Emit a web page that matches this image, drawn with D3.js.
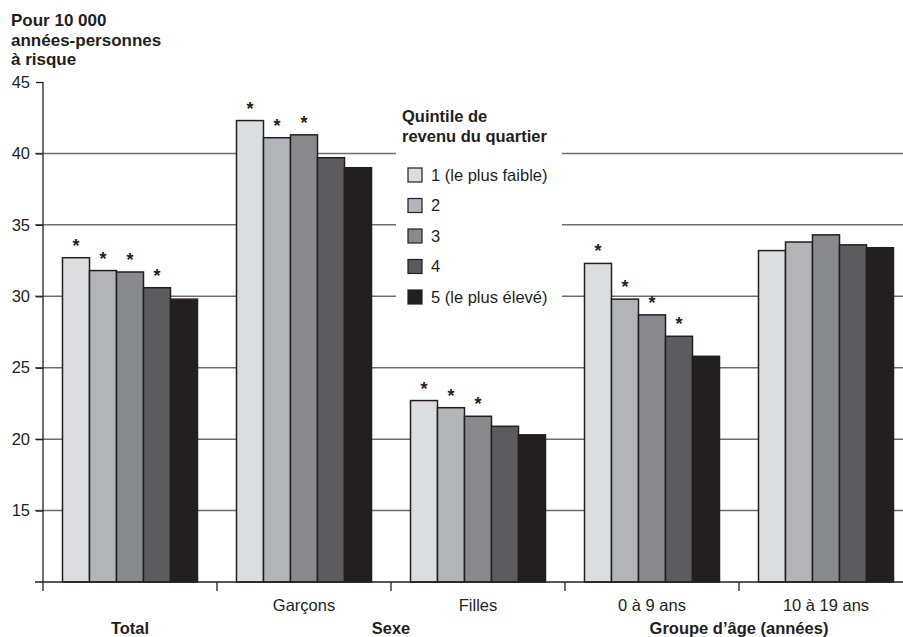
<!DOCTYPE html>
<html>
<head>
<meta charset="utf-8">
<script src="https://cdn.jsdelivr.net/npm/d3@7"></script>
<style>
  body { margin: 0; background: #fff; }
  svg text { font-family: "Liberation Sans", Arial, sans-serif; fill: #231f20; }
</style>
</head>
<body>
<div id="chart"></div>
<script>
// Data
const categories = ["Total", "Garçons", "Filles", "0 à 9 ans", "10 à 19 ans"];
const tickLabels = ["", "Garçons", "Filles", "0 à 9 ans", "10 à 19 ans"];
const quintiles = ["1 (le plus faible)", "2", "3", "4", "5 (le plus élevé)"];
const q1 = [32.7, 42.3, 22.7, 32.3, 33.2];
const q2 = [31.8, 41.1, 22.2, 29.8, 33.8];
const q3 = [31.7, 41.3, 21.6, 28.7, 34.3];
const q4 = [30.6, 39.7, 20.9, 27.2, 33.6];
const q5 = [29.8, 39.0, 20.3, 25.8, 33.4];
// significance stars (1 = starred)
const star1 = [1, 1, 1, 1, 0];
const star2 = [1, 1, 1, 1, 0];
const star3 = [1, 1, 1, 1, 0];
const star4 = [1, 0, 0, 1, 0];
const star5 = [0, 0, 0, 0, 0];
const yTicks = [15, 20, 25, 30, 35, 40, 45];
const groupNames = ["Total", "Sexe", "Groupe d’âge (années)"];
const groupSpans = [[0, 0], [1, 2], [3, 4]];
const colors = ["#dcdddf", "#b3b4b7", "#898a8d", "#5c5c5f", "#231f20"];

const width = 903, height = 637;
const values = [q1, q2, q3, q4, q5];
const stars = [star1, star2, star3, star4, star5];

const svg = d3.select("#chart")
  .append("svg")
    .attr("width", width)
    .attr("height", height);

// Scales
const y = d3.scaleLinear().domain([10, 45]).range([582, 82]);
const x0 = d3.scaleBand().domain(categories).range([43, 913]);
const groupW = 135;
const x1 = d3.scaleBand().domain(d3.range(5))
    .range([(x0.bandwidth() - groupW) / 2, (x0.bandwidth() + groupW) / 2]);

// Gridlines
svg.append("g")
  .selectAll("line")
  .data(yTicks.filter(d => d < 45))
  .join("line")
    .attr("x1", 35).attr("x2", width)
    .attr("y1", d => y(d)).attr("y2", d => y(d))
    .attr("stroke", "#6d6e71")
    .attr("stroke-width", 1.5);

// Y axis
const yAxis = svg.append("g")
    .attr("transform", "translate(43,0)")
    .call(d3.axisLeft(y).tickValues(yTicks).tickSize(7).tickPadding(6));
yAxis.select(".domain").remove();
yAxis.selectAll(".tick line").attr("stroke", "#231f20").attr("stroke-width", 1.3);
yAxis.selectAll(".tick text")
    .style("font-size", "16.5px")
    .attr("fill", "#231f20");
svg.append("line")
    .attr("x1", 43).attr("x2", 43)
    .attr("y1", y(45)).attr("y2", 591)
    .attr("stroke", "#231f20").attr("stroke-width", 1.3);

// Bars
const groups = svg.append("g")
  .selectAll("g")
  .data(categories)
  .join("g")
    .attr("transform", d => `translate(${x0(d)},0)`);

groups.selectAll("rect")
  .data((d, i) => values.map((s, k) => ({k: k, v: s[i], star: stars[k][i]})))
  .join("rect")
    .attr("x", d => x1(d.k))
    .attr("y", d => y(d.v))
    .attr("width", x1.bandwidth())
    .attr("height", d => y(10) - y(d.v))
    .attr("fill", d => colors[d.k])
    .attr("stroke", "#231f20")
    .attr("stroke-width", 1.5);

groups.selectAll("text.star")
  .data((d, i) => values.map((s, k) => ({k: k, v: s[i], star: stars[k][i]})).filter(d => d.star))
  .join("text")
    .attr("class", "star")
    .attr("x", d => x1(d.k) + x1.bandwidth() / 2)
    .attr("y", d => y(d.v) - 6)
    .attr("text-anchor", "middle")
    .style("font-size", "18px")
    .style("font-weight", "bold")
    .text("*");

// X axis
svg.append("line")
    .attr("x1", 35).attr("x2", width)
    .attr("y1", y(10)).attr("y2", y(10))
    .attr("stroke", "#231f20").attr("stroke-width", 1.3);
svg.append("g")
  .selectAll("line")
  .data(categories.slice(1))
  .join("line")
    .attr("x1", d => x0(d)).attr("x2", d => x0(d))
    .attr("y1", y(10)).attr("y2", y(10) + 9)
    .attr("stroke", "#231f20").attr("stroke-width", 1.3);

svg.append("g")
  .selectAll("text")
  .data(categories)
  .join("text")
    .attr("x", d => x0(d) + x0.bandwidth() / 2)
    .attr("y", 611)
    .attr("text-anchor", "middle")
    .style("font-size", "16.5px")
    .text((d, i) => tickLabels[i]);

svg.append("g")
  .selectAll("text")
  .data(groupNames)
  .join("text")
    .attr("x", (d, i) => (x0(categories[groupSpans[i][0]]) + x0(categories[groupSpans[i][1]]) + x0.bandwidth()) / 2)
    .attr("y", 634)
    .attr("text-anchor", "middle")
    .style("font-size", "16.5px")
    .style("font-weight", "bold")
    .text(d => d);

// Y axis title
svg.append("text")
    .attr("x", 11)
    .attr("y", 26)
    .style("font-size", "17px")
    .style("font-weight", "bold")
    .selectAll("tspan")
    .data(["Pour 10 000", "années-personnes", "à risque"])
    .join("tspan")
      .attr("x", 11)
      .attr("dy", (d, i) => i === 0 ? 0 : 19.5)
      .text(d => d);

// Legend
const legend = svg.append("g");
legend.append("rect")
    .attr("x", 396).attr("y", 96)
    .attr("width", 166).attr("height", 214)
    .attr("fill", "#fff");
legend.append("text")
    .attr("x", 402)
    .attr("y", 122)
    .style("font-size", "16.5px")
    .style("font-weight", "bold")
    .selectAll("tspan")
    .data(["Quintile de", "revenu du quartier"])
    .join("tspan")
      .attr("x", 402)
      .attr("dy", (d, i) => i === 0 ? 0 : 20)
      .text(d => d);

const legendSpace = 30.5;
quintiles.forEach((q, i) => {
    legend.append("rect")
        .attr("x", 408)
        .attr("y", 168 + i * legendSpace)
        .attr("width", 14).attr("height", 14)
        .attr("fill", colors[i])
        .attr("stroke", "#231f20")
        .attr("stroke-width", 1.2);
    legend.append("text")
        .attr("x", 431)
        .attr("y", 175 + i * legendSpace)
        .attr("dy", ".35em")
        .style("font-size", "16.5px")
        .text(q);
});
</script>
</body>
</html>
